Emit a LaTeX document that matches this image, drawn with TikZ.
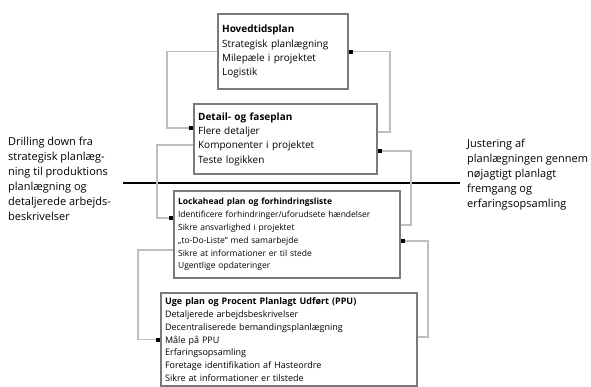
\documentclass[tikz,border=0pt]{standalone}
\usepackage{fontspec}
\setmainfont{Open Sans}
\usepackage{tikz}
\tikzset{>=latex}
\usetikzlibrary{arrows.meta}
\definecolor{boxgray}{HTML}{7A7A7A}
\definecolor{linkgray}{HTML}{BEBEBE}
\tikzset{
  planbox/.style={draw=boxgray, line width=2.2pt, anchor=north west, align=left, inner xsep=4pt, inner ysep=3pt},
  planlink/.style={draw=linkgray, line width=1.6pt, -{Square[black, length=4pt, width=4pt]}},
  sidetext/.style={anchor=north west, align=left, inner sep=0pt, font=\fontsize{11}{15}\selectfont},
  divider/.style={line width=2.4pt, black}
}

\begin{document}
\begin{tikzpicture}[x=1pt, y=-1pt]
            \useasboundingbox (0,0) rectangle (591,387);
            \node[planbox, text width=122pt, minimum height=75pt, font=\fontsize{10}{14.3}\selectfont] (hoved) at (217,13) {\textbf{Hovedtidsplan}\\Strategisk planlægning\\Milepæle i projektet\\Logistik};
            \node[planbox, text width=175pt, minimum height=70pt, font=\fontsize{10}{14.3}\selectfont] (detail) at (193,103) {\textbf{Detail- og faseplan}\\Flere detaljer\\Komponenter i projektet\\Teste logikken};
            \node[planbox, text width=218pt, minimum height=87pt, font=\fontsize{8.5}{12.8}\selectfont] (lookahead) at (173,190) {\textbf{Lockahead plan og forhindringsliste}\\Identificere forhindringer/uforudsete hændelser\\Sikre ansvarlighed i projektet\\„to-Do-Liste“ med samarbejde\\Sikre at informationer er til stede\\Ugentlige opdateringer};
            \node[planbox, text width=248pt, minimum height=93pt, font=\fontsize{9}{12.7}\selectfont] (ugeplan) at (160,292) {\textbf{Uge plan og Procent Planlagt Udført (PPU)}\\Detaljerede arbejdsbeskrivelser\\Decentraliserede bemandingsplanlægning\\Måle på PPU\\Erfaringsopsamling\\Foretage identifikation af Hasteordre\\Sikre at informationer er tilstede};
            \node[sidetext] (drill) at (8,137) {Drilling down fra\\strategisk planlæg-\\ning til produktions\\planlægning og\\detaljerede arbejds-\\beskrivelser};
            \node[sidetext] (juster) at (467,139) {Justering af\\planlægningen gennem\\nøjagtigt planlagt\\fremgang og\\erfaringsopsamling};
            \coordinate (divstart) at (123,183);
            \coordinate (divend) at (460,183);
            \draw[divider] (divstart) -- (divend);
            \draw[planlink] (hoved.west) -- ++(-50,0) |- ([yshift=11pt]detail.west);
            \draw[planlink] (detail.west |- 0,145) -- ++(-36,0) |- (lookahead.west |- 0,218);
            \draw[planlink] (lookahead.west |- 0,250) -- ++(-35,0) |- (ugeplan.west);
            \draw[planlink] (detail.east |- 0,132) -- ++(12,0) |- (hoved.east);
            \draw[planlink] (lookahead.east |- 0,225) -- ++(10,0) |- (detail.east |- 0,151);
            \draw[planlink] (ugeplan.east |- 0,337) -- ++(10,0) |- (lookahead.east |- 0,241);
        \end{tikzpicture}
\end{document}
